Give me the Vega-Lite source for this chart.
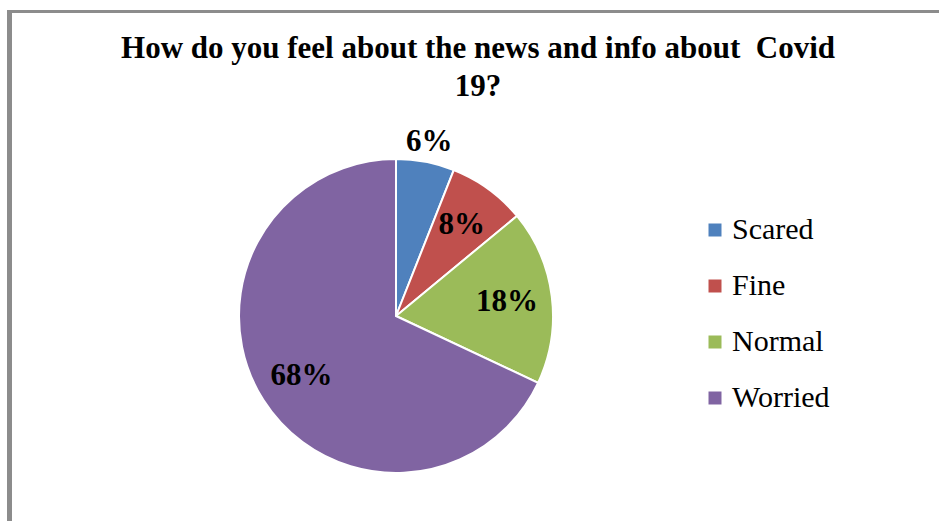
{
  "$schema": "https://vega.github.io/schema/vega-lite/v6.json",
  "padding": {"left": 7, "top": 10, "right": 0, "bottom": 0},
  "background": "white",
  "config": {"view": {"stroke": null}},
  "spacing": 0,
  "hconcat": [
    {
      "width": 5,
      "height": 515,
      "view": {"fill": "#8c8c8c", "stroke": null},
      "data": {"values": []},
      "mark": "rule",
      "encoding": {}
    },
    {
      "spacing": 20,
      "vconcat": [
        {
          "width": 927,
          "height": 3,
          "view": {"fill": "#8c8c8c", "stroke": null},
          "data": {"values": []},
          "mark": "rule",
          "encoding": {}
        },
        {
          "width": 768,
          "height": 420,
          "title": {
            "text": ["How do you feel about the news and info about\u00a0 Covid", "19?"],
            "font": "Liberation Serif",
            "fontSize": 31,
            "fontWeight": "bold",
            "lineHeight": 38,
            "color": "black",
            "anchor": "middle",
            "dx": 82,
            "offset": 3
          },
          "data": {
            "values": [
              {"category": "Scared", "value": 6},
              {"category": "Fine", "value": 8},
              {"category": "Normal", "value": 18},
              {"category": "Worried", "value": 68}
            ]
          },
          "transform": [{"calculate": "datum.value + '%'", "as": "label"}],
          "encoding": {
            "theta": {"field": "value", "type": "quantitative", "stack": true},
            "order": {"field": "value", "type": "quantitative", "sort": "ascending"}
          },
          "layer": [
            {
              "mark": {"type": "arc", "outerRadius": 157, "stroke": "white", "strokeWidth": 2},
              "encoding": {
                "color": {
                  "field": "category",
                  "type": "nominal",
                  "sort": ["Scared", "Fine", "Normal", "Worried"],
                  "scale": {"domain": ["Scared", "Fine", "Normal", "Worried"], "range": ["#4f81bd", "#c0504d", "#9bbb59", "#8064a2"]},
                  "legend": {
                    "title": null,
                    "orient": "none",
                    "legendX": 693,
                    "legendY": 205,
                    "padding": 0,
                    "symbolType": "square",
                    "symbolSize": 169,
                    "symbolStrokeWidth": 0,
                    "labelFont": "Liberation Serif",
                    "labelFontSize": 30,
                    "labelColor": "black",
                    "labelOffset": 2,
                    "rowPadding": 26
                  }
                }
              }
            },
            {
              "mark": {"type": "text", "radius": 177, "font": "Liberation Serif", "fontSize": 31, "fontWeight": "bold", "color": "black"},
              "encoding": {"text": {"condition": {"test": "datum.category === 'Scared'", "field": "label", "type": "nominal"}, "value": ""}}
            },
            {
              "mark": {"type": "text", "radius": 112, "font": "Liberation Serif", "fontSize": 31, "fontWeight": "bold", "color": "black"},
              "encoding": {"text": {"condition": {"test": "datum.category !== 'Scared'", "field": "label", "type": "nominal"}, "value": ""}}
            }
          ]
        }
      ]
    }
  ]
}
